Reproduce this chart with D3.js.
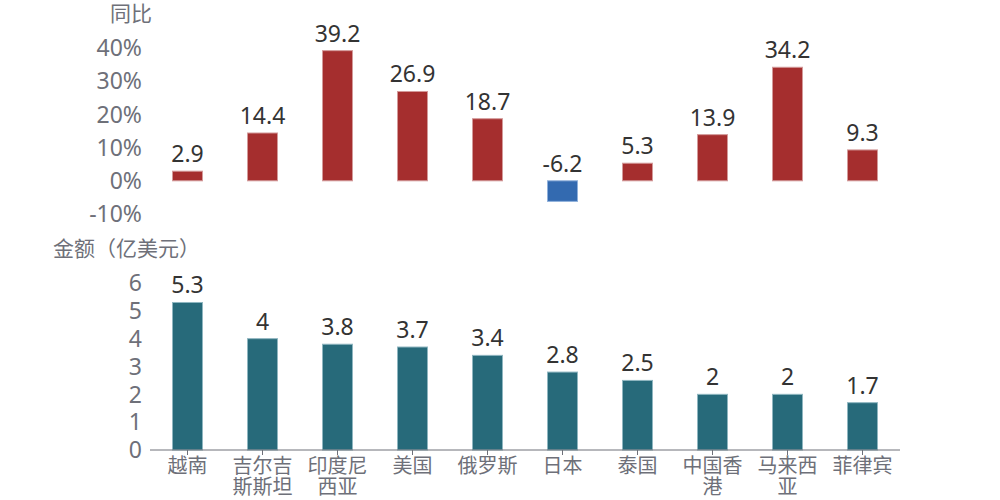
<!DOCTYPE html>
<html>
<head>
<meta charset="utf-8">
<script src="https://cdn.jsdelivr.net/npm/d3@7.9.0/dist/d3.min.js"></script>
<style>
  body { margin: 0; background: #fff; }
  svg { font-family: "Noto Sans", "Noto Sans CJK SC", sans-serif; }
</style>
</head>
<body>
<div id="chart"></div>
<script>
const regions = [
  ['越南'], ['吉尔吉', '斯斯坦'], ['印度尼', '西亚'], ['美国'], ['俄罗斯'],
  ['日本'], ['泰国'], ['中国香', '港'], ['马来西', '亚'], ['菲律宾']
];
const yoy = [2.9, 14.4, 39.2, 26.9, 18.7, -6.2, 5.3, 13.9, 34.2, 9.3];
const amount = [5.3, 4, 3.8, 3.7, 3.4, 2.8, 2.5, 2, 2, 1.7];
const yoyTicks = [-10, 0, 10, 20, 30, 40];
const amountTicks = [0, 1, 2, 3, 4, 5, 6];

const width = 1000, height = 500;
const axisColor = '#6e7079';
const labelColor = '#333';

const svg = d3.select('#chart').append('svg')
  .attr('width', width).attr('height', height);

const x = d3.scaleBand()
  .domain(d3.range(regions.length))
  .range([150, 900])
  .paddingInner(0.6)
  .paddingOuter(0.3);

// --- top: 同比 ---
const yTop = d3.scaleLinear().domain([-10, 40]).range([214, 48]);

svg.append('text')
  .attr('x', 152).attr('y', 21)
  .attr('text-anchor', 'end')
  .attr('fill', axisColor)
  .style('font-size', '21px')
  .text('同比');

svg.append('g')
  .selectAll('text')
  .data(yoyTicks)
  .join('text')
  .attr('x', 142)
  .attr('y', d => yTop(d))
  .attr('dy', '0.36em')
  .attr('text-anchor', 'end')
  .attr('fill', axisColor)
  .style('font-size', '23px')
  .text(d => d + '%');

svg.append('g')
  .selectAll('rect')
  .data(yoy)
  .join('rect')
  .attr('x', (d, i) => x(i))
  .attr('width', x.bandwidth())
  .attr('y', d => yTop(Math.max(0, d)))
  .attr('height', d => Math.abs(yTop(d) - yTop(0)))
  .attr('fill', d => d < 0 ? '#336ab0' : '#a52e2e')
  .attr('stroke', d => d < 0 ? '#8fb0db' : '#d39a9a')
  .attr('stroke-width', 1);

svg.append('g')
  .selectAll('text')
  .data(yoy)
  .join('text')
  .attr('x', (d, i) => x(i) + x.bandwidth() / 2)
  .attr('y', d => yTop(Math.max(0, d)) - 9)
  .attr('text-anchor', 'middle')
  .attr('fill', labelColor)
  .style('font-size', '23px')
  .text(d => d);

// --- bottom: 金额 ---
const yBot = d3.scaleLinear().domain([0, 6]).range([450, 283]);

svg.append('text')
  .attr('x', 53).attr('y', 256)
  .attr('fill', axisColor)
  .style('font-size', '21px')
  .text('金额（亿美元）');

svg.append('g')
  .selectAll('text')
  .data(amountTicks)
  .join('text')
  .attr('x', 142)
  .attr('y', d => yBot(d))
  .attr('dy', '0.36em')
  .attr('text-anchor', 'end')
  .attr('fill', axisColor)
  .style('font-size', '23px')
  .text(d => d);

svg.append('g')
  .selectAll('rect')
  .data(amount)
  .join('rect')
  .attr('x', (d, i) => x(i))
  .attr('width', x.bandwidth())
  .attr('y', d => yBot(d))
  .attr('height', d => yBot(0) - yBot(d))
  .attr('fill', '#276a7a')
  .attr('stroke', '#8fb6c0')
  .attr('stroke-width', 1);

svg.append('g')
  .selectAll('text')
  .data(amount)
  .join('text')
  .attr('x', (d, i) => x(i) + x.bandwidth() / 2)
  .attr('y', d => yBot(d) - 9)
  .attr('text-anchor', 'middle')
  .attr('fill', labelColor)
  .style('font-size', '23px')
  .text(d => d);

// x axis
const xAxis = svg.append('g').attr('transform', `translate(0,${yBot(0)})`);
xAxis.append('line')
  .attr('x1', 150).attr('x2', 900)
  .attr('stroke', axisColor);
xAxis.selectAll('.tick')
  .data(regions)
  .join('line')
  .attr('class', 'tick')
  .attr('x1', (d, i) => x(i) + x.bandwidth() / 2)
  .attr('x2', (d, i) => x(i) + x.bandwidth() / 2)
  .attr('y1', 0).attr('y2', 5)
  .attr('stroke', axisColor);

const lbl = xAxis.selectAll('.lbl')
  .data(regions)
  .join('text')
  .attr('class', 'lbl')
  .attr('text-anchor', 'middle')
  .attr('fill', axisColor)
  .style('font-size', '20px');
lbl.selectAll('tspan')
  .data((d, i) => d.map(s => ({ s, i })))
  .join('tspan')
  .attr('x', d => x(d.i) + x.bandwidth() / 2)
  .attr('y', (d, j) => 23 + j * 21)
  .text(d => d.s);
</script>
</body>
</html>
